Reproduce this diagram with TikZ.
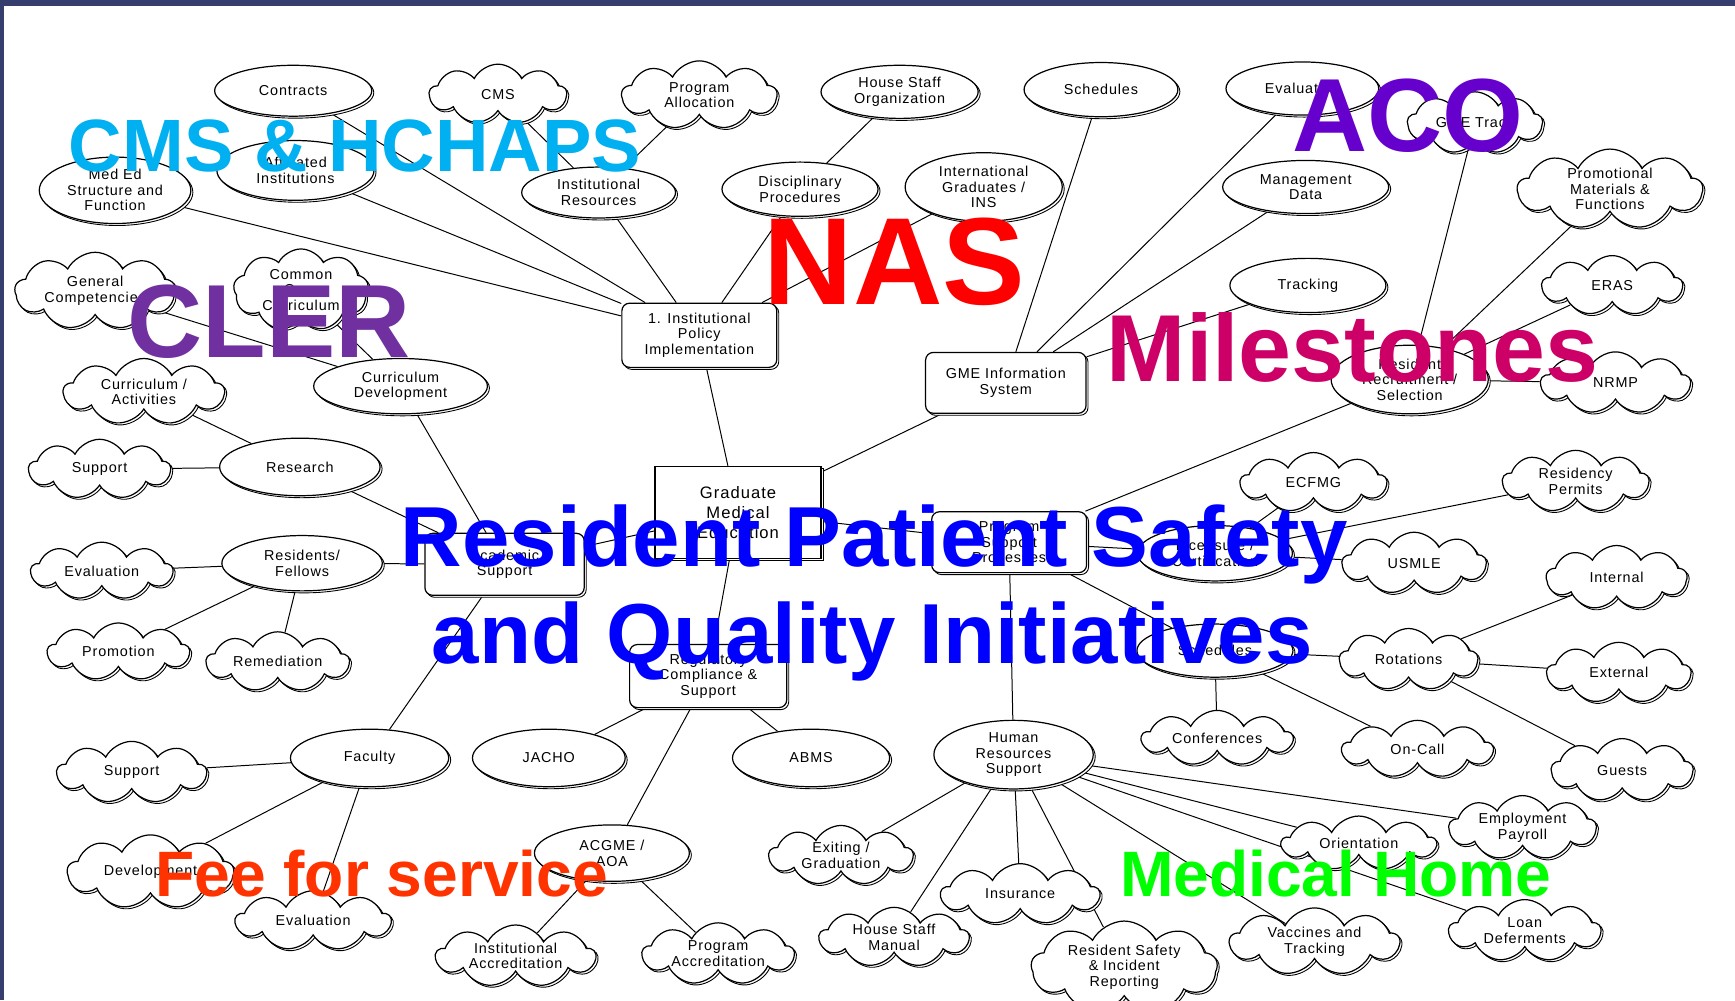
\documentclass[tikz,border=0pt]{standalone}
\usepackage{fontspec}
\setmainfont{Liberation Sans}
\newfontfamily\nodefont[LetterSpace=6]{Liberation Sans}
\usetikzlibrary{shapes.geometric, shapes.symbols, shadows, backgrounds}
\definecolor{FrameNavy}{HTML}{363E6E}
\definecolor{CmsCyan}{HTML}{00B0F0}
\definecolor{ClerPurple}{HTML}{7030A0}
\definecolor{NasRed}{HTML}{FF0000}
\definecolor{AcoViolet}{HTML}{6600CC}
\definecolor{MileMagenta}{HTML}{CC0066}
\definecolor{SafetyBlue}{HTML}{0000FF}
\definecolor{FeeOrange}{HTML}{FF3300}
\definecolor{HomeGreen}{HTML}{00FF00}
\tikzset{
  % Box styles
  basebox/.style={draw=black, line width=1.1pt, fill=white, align=center, inner sep=0pt, font=\nodefont\fontsize{13}{14}\selectfont, copy shadow={shadow xshift=1.8pt, shadow yshift=-1.8pt, draw=black, fill=white, line width=0.8pt}},
  cloudbox/.style={basebox, cloud, cloud puffs=9, cloud puff arc=125, cloud ignores aspect},
  ovalbox/.style={basebox, ellipse},
  processbox/.style={basebox, rectangle, rounded corners=7pt},
  dims/.style 2 args={minimum width=#1pt, minimum height=#2pt},
  % Arrow styles
  link/.style={line width=0.9pt, black},
  % Overlay text
  banner/.style={font=\bfseries\fontsize{#1}{#1}\selectfont, anchor=base west, inner sep=0pt}
}

\begin{document}
\begin{tikzpicture}[x=1pt, y=-1pt]
  \useasboundingbox (0,0) rectangle (1568,904);

  % Top row
  \node[ovalbox, dims={142}{46}] (contracts) at (265,82) {Contracts};
  \node[cloudbox, dims={124}{54}] (cms) at (450,85) {CMS};
  \node[cloudbox, dims={140}{62}] (progalloc) at (632,86) {Program\\Allocation};
  \node[ovalbox, dims={142}{48}] (hsorg) at (813,83) {House Staff\\Organization};
  \node[ovalbox, dims={139}{49}] (schedtop) at (995,81) {Schedules};
  \node[ovalbox, dims={138}{48}] (evaltop) at (1177,80) {Evaluation};
  \node[cloudbox, dims={122}{56}] (gmetrack) at (1333,111) {GME Track};

  % Second row
  \node[ovalbox, dims={137}{60}] (meded) at (104,172) {Med Ed\\Structure and\\Function};
  \node[ovalbox, dims={142}{54}] (affil) at (267,154) {Affiliated\\Institutions};
  \node[ovalbox, dims={139}{46}] (instres) at (541,174) {Institutional\\Resources};
  \node[ovalbox, dims={141}{49}] (discipline) at (723,171) {Disciplinary\\Procedures};
  \node[ovalbox, dims={142}{62}] (intlgrad) at (889,169) {International\\Graduates /\\INS};
  \node[ovalbox, dims={150}{48}] (mgmt) at (1180,169) {Management\\Data};
  \node[cloudbox, dims={167}{70}] (promo) at (1455,171) {Promotional\\Materials \&\\Functions};

  % Policy and information system
  \node[cloudbox, dims={145}{70}] (gencomp) at (86,263) {General\\Competencies};
  \node[cloudbox, dims={122}{74}] (corecurr) at (272,262) {Common\\Core\\Curriculum};
  \node[processbox, dims={140}{58}] (policy) at (632,303) {1. Institutional\\Policy\\Implementation};
  \node[ovalbox, dims={141}{49}] (tracking) at (1182,258) {Tracking};
  \node[cloudbox, dims={127}{54}] (eras) at (1457,258) {ERAS};
  \node[processbox, dims={145}{55}] (gmeis) at (909,346) {GME Information\\System};
  \node[ovalbox, dims={142}{62}] (recruit) at (1274,343) {Resident\\Recruitment /\\Selection};
  \node[cloudbox, dims={135}{56}] (nrmp) at (1460,346) {NRMP};
  \node[cloudbox, dims={145}{60}] (curract) at (130,354) {Curriculum /\\Activities};
  \node[ovalbox, dims={157}{50}] (curdev) at (362,349) {Curriculum\\Development};

  % Academic side
  \node[cloudbox, dims={128}{54}] (ressupport) at (90,424) {Support};
  \node[ovalbox, dims={145}{52}] (research) at (271,422) {Research};
  \node[cloudbox, dims={128}{52}] (reseval) at (92,516) {Evaluation};
  \node[ovalbox, dims={145}{50}] (fellows) at (273,509) {Residents/\\Fellows};
  \node[processbox, dims={144}{56}] (academic) at (456,510) {Academic\\Support};
  \node[cloudbox, dims={128}{52}] (promotion) at (107,589) {Promotion};
  \node[cloudbox, dims={129}{54}] (remediation) at (251,598) {Remediation};

  % Centre
  \node[basebox, rectangle, dims={150}{83}, font=\nodefont\fontsize{15}{18}\selectfont] (gme) at (667,463) {Graduate\\Medical\\Education};
  \node[processbox, dims={140}{55}] (progsupport) at (912,490) {Program\\Support\\Processes};
  \node[processbox, dims={142}{57}] (regulatory) at (640,611) {Regulatory\\Compliance \&\\Support};

  % Licensure and schedules
  \node[cloudbox, dims={132}{54}] (ecfmg) at (1187,436) {ECFMG};
  \node[cloudbox, dims={132}{56}] (permits) at (1424,435) {Residency\\Permits};
  \node[ovalbox, dims={140}{50}] (licensure) at (1098,500) {Licensure /\\Certification};
  \node[cloudbox, dims={130}{56}] (usmle) at (1278,509) {USMLE};
  \node[cloudbox, dims={127}{58}] (internal) at (1461,522) {Internal};
  \node[ovalbox, dims={141}{48}] (schedules) at (1098,588) {Schedules};
  \node[cloudbox, dims={125}{56}] (rotations) at (1273,596) {Rotations};
  \node[cloudbox, dims={130}{55}] (external) at (1463,608) {External};
  \node[cloudbox, dims={136}{50}] (conferences) at (1100,667) {Conferences};
  \node[cloudbox, dims={136}{52}] (oncall) at (1281,677) {On-Call};
  \node[cloudbox, dims={128}{57}] (guests) at (1466,696) {Guests};

  % Faculty and regulation
  \node[cloudbox, dims={135}{56}] (facsupport) at (119,698) {Support};
  \node[ovalbox, dims={143}{52}] (faculty) at (334,685) {Faculty};
  \node[ovalbox, dims={138}{52}] (jacho) at (496,685) {JACHO};
  \node[ovalbox, dims={142}{52}] (abms) at (733,685) {ABMS};
  \node[ovalbox, dims={140}{51}] (acgme) at (553,771) {ACGME /\\AOA};
  \node[cloudbox, dims={150}{67}] (development) at (136,788) {Development};
  \node[cloudbox, dims={140}{54}] (faceval) at (283,832) {Evaluation};
  \node[cloudbox, dims={144}{56}] (instaccr) at (466,864) {Institutional\\Accreditation};
  \node[cloudbox, dims={137}{56}] (progaccr) at (649,862) {Program\\Accreditation};

  % Human resources
  \node[ovalbox, dims={144}{62}] (hr) at (916,682) {Human\\Resources\\Support};
  \node[cloudbox, dims={130}{54}] (exiting) at (760,773) {Exiting /\\Graduation};
  \node[cloudbox, dims={143}{55}] (insurance) at (922,808) {Insurance};
  \node[cloudbox, dims={135}{54}] (hsmanual) at (808,847) {House Staff\\Manual};
  \node[cloudbox, dims={168}{64}] (safety) at (1016,874) {Resident Safety\\\& Incident\\Reporting};
  \node[cloudbox, dims={153}{61}] (vaccines) at (1188,851) {Vaccines and\\Tracking};
  \node[cloudbox, dims={139}{49}] (orientation) at (1228,762) {Orientation};
  \node[cloudbox, dims={133}{52}] (payroll) at (1376,748) {Employment\\Payroll};
  \node[cloudbox, dims={137}{56}] (loan) at (1378,841) {Loan\\Deferments};

  \begin{scope}[on background layer]
    % Policy branch
    \draw[link] (contracts) -- (policy);
    \draw[link] (affil) -- (policy);
    \draw[link] (meded) -- (policy);
    \draw[link] (cms) -- (instres);
    \draw[link] (progalloc) -- (instres);
    \draw[link] (instres) -- (policy);
    \draw[link] (hsorg) -- (discipline);
    \draw[link] (discipline) -- (policy);
    \draw[link] (intlgrad) -- (policy);
    \draw[link] (policy) -- (gme);
    % Academic branch
    \draw[link] (gencomp) -- (curdev);
    \draw[link] (corecurr) -- (curdev);
    \draw[link] (curdev) -- (academic);
    \draw[link] (curract) -- (research);
    \draw[link] (ressupport) -- (research);
    \draw[link] (research) -- (academic);
    \draw[link] (reseval) -- (fellows);
    \draw[link] (promotion) -- (fellows);
    \draw[link] (remediation) -- (fellows);
    \draw[link] (fellows) -- (academic);
    \draw[link] (faculty) -- (academic);
    \draw[link] (facsupport) -- (faculty);
    \draw[link] (development) -- (faculty);
    \draw[link] (faceval) -- (faculty);
    \draw[link] (academic) -- (gme);
    % Regulatory branch
    \draw[link] (gme) -- (regulatory);
    \draw[link] (regulatory) -- (jacho);
    \draw[link] (regulatory) -- (acgme);
    \draw[link] (regulatory) -- (abms);
    \draw[link] (acgme) -- (instaccr);
    \draw[link] (acgme) -- (progaccr);
    % Information branch
    \draw[link] (gme) -- (gmeis);
    \draw[link] (gmeis) -- (schedtop);
    \draw[link] (gmeis) -- (evaltop);
    \draw[link] (gmeis) -- (mgmt);
    \draw[link] (gmeis) -- (tracking);
    % Program support branch
    \draw[link] (gme) -- (progsupport);
    \draw[link] (gmetrack) -- (recruit);
    \draw[link] (promo) -- (recruit);
    \draw[link] (eras) -- (recruit);
    \draw[link] (nrmp) -- (recruit);
    \draw[link] (recruit) -- (progsupport);
    \draw[link] (progsupport) -- (licensure);
    \draw[link] (licensure) -- (ecfmg);
    \draw[link] (licensure) -- (permits);
    \draw[link] (licensure) -- (usmle);
    \draw[link] (progsupport) -- (schedules);
    \draw[link] (schedules) -- (rotations);
    \draw[link] (schedules) -- (conferences);
    \draw[link] (schedules) -- (oncall);
    \draw[link] (rotations) -- (internal);
    \draw[link] (rotations) -- (external);
    \draw[link] (rotations) -- (guests);
    \draw[link] (progsupport) -- (hr);
    % Human resources branch
    \draw[link] (hr) -- (payroll);
    \draw[link] (hr) -- (orientation);
    \draw[link] (hr) -- (loan);
    \draw[link] (hr) -- (vaccines);
    \draw[link] (hr) -- (safety);
    \draw[link] (hr) -- (insurance);
    \draw[link] (hr) -- (hsmanual);
    \draw[link] (hr) -- (exiting);
  \end{scope}

  % Overlay titles
  \node[banner=67, text=CmsCyan] (cmstitle) at (62,155) {CMS \& HCHAPS};
  \node[banner=94, text=ClerPurple] (clertitle) at (115,323) {CLER};
  \node[banner=112, text=NasRed] (nastitle) at (690,275) {NAS};
  \node[banner=94, text=AcoViolet] (acotitle) at (1168,137) {ACO};
  \node[banner=86, text=MileMagenta] (miletitle) at (1000,345) {Milestones};
  \node[banner=77, text=SafetyBlue] (safetytitle) at (362,512) {Resident Patient Safety};
  \node[banner=77, text=SafetyBlue] (qualitytitle) at (390,600) {and Quality Initiatives};
  \node[banner=58, text=FeeOrange] (feetitle) at (140,810) {Fee for service};
  \node[banner=58, text=HomeGreen] (hometitle) at (1012,810) {Medical Home};

  % Frame
  \fill[FrameNavy] (0,0) rectangle (1568,5);
  \fill[FrameNavy] (0,0) rectangle (4,904);
\end{tikzpicture}
\end{document}
